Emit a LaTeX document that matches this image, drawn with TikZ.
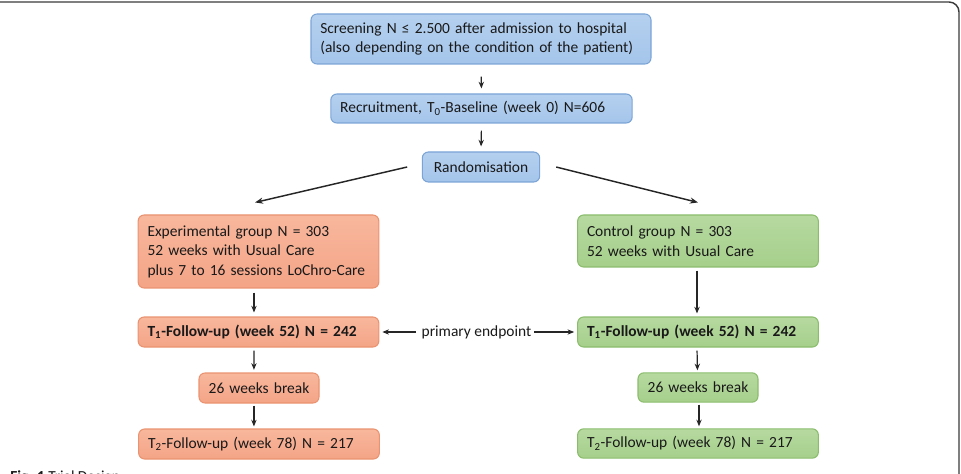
\documentclass[tikz,border=0pt]{standalone}
\usepackage{fontspec}
\setmainfont{Carlito}
\usetikzlibrary{arrows.meta,calc}
\definecolor{bluefill}{HTML}{A4C5EA}
\definecolor{bluetop}{HTML}{B5D0EF}
\definecolor{blueline}{HTML}{7BA4D6}
\definecolor{orfill}{HTML}{F4A487}
\definecolor{ortop}{HTML}{F8B79C}
\definecolor{orline}{HTML}{EA9370}
\definecolor{grfill}{HTML}{A6CF8B}
\definecolor{grtop}{HTML}{B6D9A0}
\definecolor{grline}{HTML}{8BBD6D}
\definecolor{framec}{HTML}{3A3A3A}
\begin{document}
\begin{tikzpicture}[x=0.75pt,y=-0.75pt,
  every node/.style={font=\fontsize{11.6}{14.6}\selectfont, text=black!90},
  basebox/.style={rounded corners=4.5pt, line width=0.8pt, inner xsep=7pt, inner ysep=0pt, align=left},
  bluebox/.style={basebox, draw=blueline, top color=bluetop, bottom color=bluefill},
  orbox/.style={basebox, draw=orline, top color=ortop, bottom color=orfill},
  grbox/.style={basebox, draw=grline, top color=grtop, bottom color=grfill},
  wide/.style={minimum width=180.5pt, text width=166.5pt},
  short/.style={minimum width=90pt, text width=76pt, align=center},
  arr/.style={-{Stealth[length=5pt,width=4pt]}, line width=0.9pt, black!85},
  diag/.style={-{Stealth[length=6pt,width=4.6pt]}, line width=1.1pt, black!85}
]
\useasboundingbox (0,0) rectangle (961,474);
\clip (0,0) rectangle (961,474);
\draw[framec, line width=1.1pt, rounded corners=7.5pt] (-20,2) -- (959,2) -- (959,520);

\node[bluebox, minimum width=255pt, text width=241pt, minimum height=37.5pt] (scr) at (481,39)
  {Screening N ≤ 2.500 after admission to hospital\\(also depending on the condition of the patient)};
\node[bluebox, minimum width=225.75pt, text width=212pt, minimum height=21.75pt] (rec) at (481.5,108.5)
  {Recruitment, T\textsubscript{0}-Baseline (week 0) N=606};
\node[bluebox, minimum width=87pt, text width=74pt, align=center, minimum height=22.5pt] (rnd) at (481,167)
  {Randomisation};

\node[orbox, wide, minimum height=54.75pt] (exp) at (258.5,251.5)
  {Experimental group N = 303\\52 weeks with Usual Care\\plus 7 to 16 sessions LoChro-Care};
\node[orbox, wide, minimum height=22.5pt] (t1l) at (258.5,332)
  {\textbf{T\textsubscript{1}-Follow-up (week 52) N = 242}};
\node[orbox, short, minimum height=22.5pt] (brl) at (259,388) {26 weeks break};
\node[orbox, wide, minimum height=22.5pt] (t2l) at (259,444)
  {T\textsubscript{2}-Follow-up (week 78) N = 217};

\node[grbox, wide, minimum height=39pt] (ctl) at (698,241)
  {Control group N = 303\\52 weeks with Usual Care};
\node[grbox, wide, minimum height=22.5pt] (t1r) at (698,332)
  {\textbf{T\textsubscript{1}-Follow-up (week 52) N = 242}};
\node[grbox, short, minimum height=22pt] (brr) at (698,387.5) {26 weeks break};
\node[grbox, wide, minimum height=22pt] (t2r) at (698,443.5)
  {T\textsubscript{2}-Follow-up (week 78) N = 217};

\node[inner sep=1pt] (pe) at (476.5,332) {primary endpoint};

\draw[arr, shorten <=9pt, shorten >=3.75pt] (scr.south) -- (rec.north);
\draw[arr, shorten <=5.25pt, shorten >=3.75pt] (rec.south) -- (rnd.north);
\draw[diag] ([xshift=-11pt]rnd.west) -- ([xshift=-2.6pt,yshift=9pt]exp.north);
\draw[diag] ([xshift=12pt]rnd.east) -- ([yshift=9pt]ctl.north);

\draw[arr, shorten <=3pt, shorten >=3pt] ([xshift=-3.4pt]exp.south) -- ([xshift=-3.4pt]t1l.north);
\draw[arr, shorten <=2.25pt, shorten >=2pt] ([xshift=-3.4pt]t1l.south) -- ([xshift=-3.8pt]brl.north);
\draw[arr, shorten <=1.5pt, shorten >=1.5pt] ([xshift=-3.8pt]brl.south) -- ([xshift=-3.8pt]t2l.north);

\draw[arr, shorten <=2.25pt, shorten >=2.25pt] ([xshift=-0.75pt]ctl.south) -- ([xshift=-0.75pt]t1r.north);
\draw[arr, shorten <=2.25pt, shorten >=1.5pt] ([xshift=-0.75pt]t1r.south) -- ([xshift=-0.4pt]brr.north);
\draw[arr, shorten <=1.5pt, shorten >=1.5pt] ([xshift=0.75pt]brr.south) -- ([xshift=0.75pt]t2r.north);

\draw[arr, shorten <=3pt, shorten >=2.25pt] (pe.west) -- (t1l.east);
\draw[arr, shorten <=1pt, shorten >=2.25pt] (pe.east) -- (t1r.west);

\node[anchor=base west, inner sep=0pt, font=\fontsize{11.5}{13}\selectfont] (cap) at (10,481)
  {\textbf{Fig. 1} Trial Design};
\end{tikzpicture}
\end{document}
